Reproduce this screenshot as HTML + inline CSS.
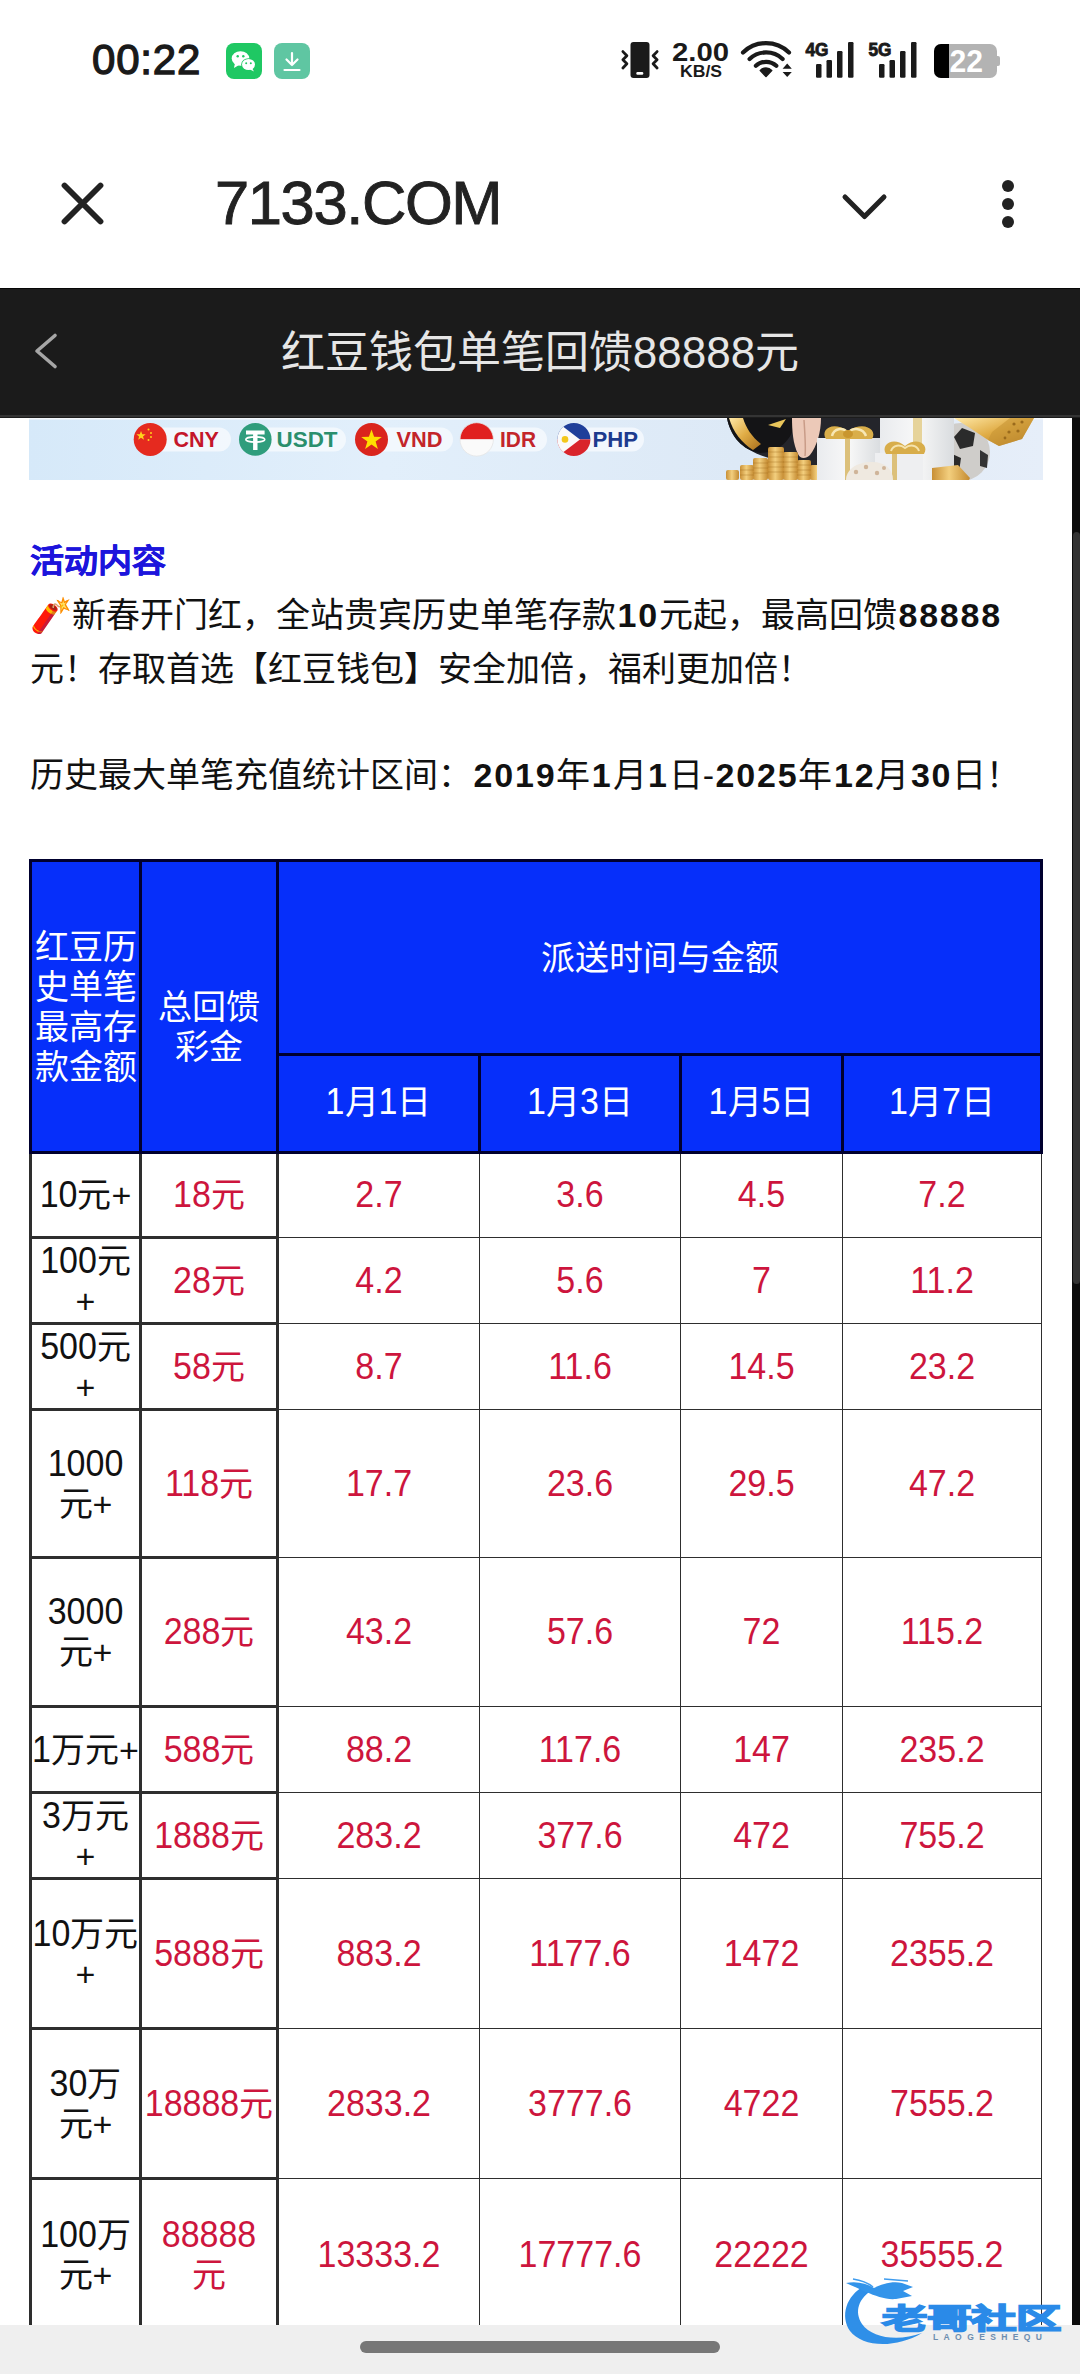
<!DOCTYPE html>
<html lang="zh-CN"><head><meta charset="utf-8">
<style>
*{margin:0;padding:0;box-sizing:border-box}
html,body{width:1080px;height:2374px;overflow:hidden;background:#fff;font-family:"Liberation Sans",sans-serif;position:relative}
.a{position:absolute}
.n{display:inline-block;transform:scaleY(1.09);position:relative;top:-1px}
b{letter-spacing:1.8px;margin-left:1.5px}
.c{position:absolute;display:flex;align-items:center;justify-content:center;text-align:center}
</style></head><body>
<!-- status bar -->
<div class="a" style="left:92px;top:35.5px;font-size:42px;font-weight:normal;color:#1a1a1a;letter-spacing:0.8px;-webkit-text-stroke:1.3px #1a1a1a">00:22</div>
<svg class="a" style="left:226px;top:43px" width="36" height="36" viewBox="0 0 36 36">
<rect width="36" height="36" rx="8" fill="#1fc863"/>
<ellipse cx="14.5" cy="15.5" rx="8.8" ry="7.3" fill="#fff"/>
<path d="M9 20 L8 25 L13 22 Z" fill="#fff"/>
<ellipse cx="22.5" cy="21.5" rx="7.3" ry="6.2" fill="#1fc863"/>
<ellipse cx="22.5" cy="21.5" rx="6.5" ry="5.5" fill="#fff"/>
<path d="M26 25 L28 28.5 L24 26.5 Z" fill="#fff"/>
<circle cx="11.7" cy="13.3" r="1.2" fill="#1fc863"/><circle cx="17.3" cy="13.3" r="1.2" fill="#1fc863"/>
<circle cx="20.2" cy="20.2" r="1" fill="#1fc863"/><circle cx="24.8" cy="20.2" r="1" fill="#1fc863"/>
</svg>
<svg class="a" style="left:274px;top:43px" width="36" height="36" viewBox="0 0 36 36">
<rect width="36" height="36" rx="8" fill="#5fc6a2"/>
<path d="M18 10 V22 M12.5 16.5 L18 22 L23.5 16.5 M10.5 27 H25.5" stroke="#fff" stroke-width="2.2" fill="none" stroke-linecap="round" stroke-linejoin="round"/>
</svg>
<svg class="a" style="left:615px;top:35px" width="400" height="50" viewBox="615 35 400 50">
<rect x="630.5" y="42" width="19" height="36" rx="3" fill="#1a1a1a"/>
<rect x="636.3" y="72" width="7" height="2.7" rx="1.2" fill="#fff"/>
<path d="M622.9 51.6 L626.9 55.8 L622.9 59.8 L626.9 63.8 L622.9 68" stroke="#1a1a1a" stroke-width="2.8" fill="none" stroke-linecap="round" stroke-linejoin="round"/>
<path d="M657.1 51.6 L653.1 55.8 L657.1 59.8 L653.1 63.8 L657.1 68" stroke="#1a1a1a" stroke-width="2.8" fill="none" stroke-linecap="round" stroke-linejoin="round"/>
<path d="M743 52.5 A33 33 0 0 1 789 52.5" stroke="#1a1a1a" stroke-width="4.2" fill="none" stroke-linecap="round"/>
<path d="M749.6 59 A24 24 0 0 1 782.6 59" stroke="#1a1a1a" stroke-width="4.2" fill="none" stroke-linecap="round"/>
<path d="M755.9 65.8 A15 15 0 0 1 776.3 65.8" stroke="#1a1a1a" stroke-width="4.2" fill="none" stroke-linecap="round"/>
<path d="M766 76.5 L760.3 70.5 A8 8 0 0 1 771.7 70.5 Z" fill="#1a1a1a" stroke="#1a1a1a" stroke-width="1.5" stroke-linejoin="round"/>
<path d="M782.6 68.7 L787.2 63.5 L791.8 68.7 Z M782.6 71.9 L787.2 77.1 L791.8 71.9 Z" fill="#1a1a1a"/>
<rect x="816" y="64" width="5.5" height="13.8" rx="1.2" fill="#1a1a1a"/>
<rect x="826.5" y="60" width="5.5" height="17.8" rx="1.2" fill="#1a1a1a"/>
<rect x="837" y="51" width="5.5" height="26.8" rx="1.2" fill="#1a1a1a"/>
<rect x="848" y="42" width="5.5" height="35.8" rx="1.2" fill="#1a1a1a"/>
<rect x="879" y="64" width="5.5" height="13.8" rx="1.2" fill="#1a1a1a"/>
<rect x="889.5" y="60" width="5.5" height="17.8" rx="1.2" fill="#1a1a1a"/>
<rect x="900" y="51" width="5.5" height="26.8" rx="1.2" fill="#1a1a1a"/>
<rect x="911" y="42" width="5.5" height="35.8" rx="1.2" fill="#1a1a1a"/>
<text x="805.5" y="56" font-family="Liberation Sans" font-weight="bold" font-size="18.5" fill="#1a1a1a" stroke="#1a1a1a" stroke-width="0.9" textLength="23" lengthAdjust="spacingAndGlyphs">4G</text>
<text x="868.5" y="56" font-family="Liberation Sans" font-weight="bold" font-size="18.5" fill="#1a1a1a" stroke="#1a1a1a" stroke-width="0.9" textLength="23" lengthAdjust="spacingAndGlyphs">5G</text>
<rect x="934" y="44" width="63" height="34" rx="7" fill="#b3b3b3"/>
<path d="M941 44 H949 V78 H941 A7 7 0 0 1 934 71 V51 A7 7 0 0 1 941 44 Z" fill="#000"/>
<path d="M997 56 H998 A2 2 0 0 1 1000 58 V64 A2 2 0 0 1 998 66 H997 Z" fill="#b3b3b3"/>
<text x="949.5" y="72.4" font-family="Liberation Sans" font-weight="bold" font-size="31" fill="#fff" textLength="33.5" lengthAdjust="spacingAndGlyphs">22</text>
<text x="672" y="61" font-family="Liberation Sans" font-weight="bold" font-size="26.5" fill="#1a1a1a" textLength="57" lengthAdjust="spacingAndGlyphs">2.00</text>
<text x="680" y="76.7" font-family="Liberation Sans" font-weight="bold" font-size="17" fill="#1a1a1a" textLength="42" lengthAdjust="spacingAndGlyphs">KB/S</text>
</svg>

<!-- browser toolbar -->
<svg class="a" style="left:0;top:150px" width="1080" height="100" viewBox="0 150 1080 100">
<path d="M64.5 185.5 L100.5 221.5 M100.5 185.5 L64.5 221.5" stroke="#222" stroke-width="5.8" stroke-linecap="round"/>
<path d="M845 197 L864.5 216.5 L884 197" stroke="#222" stroke-width="5" fill="none" stroke-linecap="round" stroke-linejoin="round"/>
<circle cx="1008" cy="186" r="6" fill="#222"/><circle cx="1008" cy="204" r="6" fill="#222"/><circle cx="1008" cy="222" r="6" fill="#222"/>
</svg>
<div class="a" style="left:215px;top:167px;font-size:61.5px;color:#222;letter-spacing:-1.4px;-webkit-text-stroke:0.9px #222">7133.COM</div>

<!-- dark header -->
<div class="a" style="left:0;top:288px;width:1080px;height:130px;background:#1b1b1b;border-top:1px solid #060606"></div>
<div class="a" style="left:0;top:415px;width:1080px;height:2px;background:#343434"></div>
<div class="a" style="left:0;top:417px;width:1080px;height:1px;background:#1c1c1c"></div>
<svg class="a" style="left:0;top:288px" width="100" height="127" viewBox="0 288 100 127"><path d="M55 335.5 L37 351 L55 366.5" stroke="#a6a6a6" stroke-width="3.6" fill="none" stroke-linecap="round" stroke-linejoin="round"/></svg>
<div class="a" style="left:0;top:317px;width:1080px;text-align:center;font-size:44px;color:#e6e6e6">红豆钱包单笔回馈88888元</div>

<!-- banner -->
<svg class="a" style="left:29px;top:418px" width="1014" height="62" viewBox="29 418 1014 62">
<defs>
<linearGradient id="bg1" x1="0" y1="0" x2="1" y2="0"><stop offset="0" stop-color="#d6e9f9"/><stop offset="0.35" stop-color="#e2effb"/><stop offset="0.7" stop-color="#dde9f6"/><stop offset="1" stop-color="#e6eef9"/></linearGradient>
<linearGradient id="gold" x1="0" y1="0" x2="1" y2="0"><stop offset="0" stop-color="#c88f36"/><stop offset="0.45" stop-color="#f3cf7e"/><stop offset="1" stop-color="#c48a30"/></linearGradient>
<linearGradient id="gold2" x1="0" y1="0" x2="1" y2="1"><stop offset="0" stop-color="#ffe9a8"/><stop offset="0.5" stop-color="#e0ac45"/><stop offset="1" stop-color="#a86e1c"/></linearGradient>
<linearGradient id="box" x1="0" y1="0" x2="1" y2="0"><stop offset="0" stop-color="#e9ebee"/><stop offset="0.5" stop-color="#f8f8f8"/><stop offset="1" stop-color="#d9dcdf"/></linearGradient>
</defs>
<rect x="29" y="418" width="1014" height="62" fill="url(#bg1)"/>
<rect x="29" y="418" width="1014" height="1.5" fill="#f4f8fc"/>
<!-- pills -->
<rect x="150" y="427.5" width="81" height="24" rx="12" fill="#f4f8fd" opacity="0.9"/>
<rect x="255" y="427.5" width="91" height="24" rx="12" fill="#f4f8fd" opacity="0.9"/>
<rect x="371" y="427.5" width="82" height="24" rx="12" fill="#f4f8fd" opacity="0.9"/>
<rect x="476" y="427.5" width="71" height="24" rx="12" fill="#f4f8fd" opacity="0.9"/>
<rect x="574" y="427.5" width="70" height="24" rx="12" fill="#f4f8fd" opacity="0.9"/>
<!-- CNY flag -->
<circle cx="150.2" cy="439.4" r="16.5" fill="#e52a1f"/>
<path d="M141 431 l1.3 3.2 3.4 .1 -2.7 2.1 1 3.3 -3 -1.9 -2.8 1.9 .9 -3.3 -2.7 -2.1 3.4 -.1z" fill="#ffd21c"/>
<circle cx="148.5" cy="429.5" r="1" fill="#ffd21c"/><circle cx="151" cy="433" r="1" fill="#ffd21c"/><circle cx="151" cy="437" r="1" fill="#ffd21c"/><circle cx="148.5" cy="440" r="1" fill="#ffd21c"/>
<!-- USDT -->
<circle cx="255.3" cy="439.4" r="16.3" fill="#2f9d7c"/>
<path d="M246 430.5 H264.6 V434.5 H257.5 V450 H253.1 V434.5 H246 Z" fill="#fff"/>
<ellipse cx="255.3" cy="439.5" rx="9.5" ry="2.6" fill="none" stroke="#fff" stroke-width="1.6"/>
<!-- VND -->
<circle cx="371.5" cy="439.4" r="16.5" fill="#da251d"/>
<path d="M371.5 429.5 l2.6 7.3 7.7 .1 -6.2 4.6 2.3 7.4 -6.4 -4.5 -6.4 4.5 2.3 -7.4 -6.2 -4.6 7.7 -.1z" fill="#ffde00"/>
<!-- IDR -->
<clipPath id="cid"><circle cx="476.7" cy="439.4" r="16.7"/></clipPath>
<g clip-path="url(#cid)"><rect x="459" y="422" width="36" height="17.4" fill="#e0201f"/><rect x="459" y="439.4" width="36" height="18" fill="#fafafa"/></g>
<circle cx="476.7" cy="439.4" r="16.7" fill="none" stroke="#e5e5e5" stroke-width="0.8"/>
<!-- PHP -->
<clipPath id="cph"><circle cx="573.9" cy="439.4" r="16.5"/></clipPath>
<g clip-path="url(#cph)"><rect x="557" y="422" width="34" height="17.4" fill="#1f3f9a"/><rect x="557" y="439.4" width="34" height="17.4" fill="#d9242b"/><path d="M557 422 L580 439.4 L557 457 Z" fill="#fafafa"/></g>
<circle cx="565" cy="439.4" r="3.3" fill="#f3c71b"/>
<text x="173.5" y="447.3" font-family="Liberation Sans" font-weight="bold" font-size="21.5" fill="#c4162a">CNY</text>
<text x="276.5" y="447.3" font-family="Liberation Sans" font-weight="bold" font-size="21.5" fill="#2a8f6d" textLength="61" lengthAdjust="spacingAndGlyphs">USDT</text>
<text x="396.5" y="447.3" font-family="Liberation Sans" font-weight="bold" font-size="21.5" fill="#c3252a" textLength="46" lengthAdjust="spacingAndGlyphs">VND</text>
<text x="500" y="447.3" font-family="Liberation Sans" font-weight="bold" font-size="21.5" fill="#c3252a" textLength="36" lengthAdjust="spacingAndGlyphs">IDR</text>
<text x="592.5" y="447.3" font-family="Liberation Sans" font-weight="bold" font-size="21.5" fill="#1d3b8e" textLength="45.5" lengthAdjust="spacingAndGlyphs">PHP</text>
<!-- art -->
<path d="M727 418 H882 V468 C850 472 800 470 760 455 C740 447 730 435 727 418 Z" fill="#24252b"/>
<path d="M727 418 H795 C795 438 780 452 760 453 C742 450 731 437 727 418 Z" fill="#141416"/>
<path d="M729 418 H743 C746 428 752 437 761 444 L753 450 C742 443 733 432 729 418 Z" fill="url(#gold2)"/>
<path d="M768 425 L786 419 L780 428 Z" fill="#e9c55a"/>
<path d="M792 418 H821 C821 432 817 446 810 455 C806 459 800 459 798 454 C793 444 792 430 792 418 Z" fill="#ecc9b8"/>
<path d="M804 420 C805 435 806 448 805 456" stroke="#c99c88" stroke-width="1.5" fill="none"/>
<g fill="url(#gold)">
<rect x="726" y="470" width="13" height="10" rx="2"/><rect x="740" y="465" width="14" height="15" rx="2"/><rect x="753" y="458" width="15" height="22" rx="2"/>
<rect x="768" y="447" width="16" height="33" rx="2"/><rect x="783" y="452" width="15" height="28" rx="2"/><rect x="797" y="460" width="14" height="20" rx="2"/><rect x="810" y="465" width="15" height="15" rx="2"/>
</g>
<g stroke="#9d6a1d" stroke-width="0.6" opacity="0.6">
<path d="M740 470 H754 M740 475 H754 M753 463 H768 M753 468 H768 M753 473 H768 M768 452 H784 M768 457 H784 M768 462 H784 M768 467 H784 M768 472 H784 M783 457 H798 M783 462 H798 M783 467 H798 M783 472 H798 M797 465 H811 M797 470 H811 M797 475 H811"/>
</g>
<rect x="817" y="438" width="64" height="42" fill="url(#box)"/>
<rect x="845" y="438" width="5" height="42" fill="#dcc07a"/>
<path d="M826 439 C820 430 832 420 848 431 C864 420 878 430 872 439 Z" fill="#d9ae4a"/>
<path d="M832 436 C834 428 843 427 848 433 C853 427 863 428 866 436" stroke="#f7e7b5" stroke-width="2.5" fill="none"/>
<ellipse cx="848" cy="434" rx="5" ry="4" fill="#c9962f"/>
<circle cx="961" cy="452" r="29" fill="#cfcdca"/>
<path d="M962 428 L975 433 L973 446 L960 449 L954 437 Z" fill="#2b2b2b"/>
<path d="M950 453 L961 458 L959 472 L950 474 Z" fill="#2b2b2b"/>
<path d="M980 450 L988 455 L987 468 L980 466 Z" fill="#333"/>
<rect x="880" y="418" width="74" height="62" fill="url(#box)"/>
<rect x="913" y="418" width="9" height="62" fill="#e6d39a"/>
<rect x="875" y="453" width="48" height="27" fill="#eeeff1"/>
<rect x="892" y="453" width="5" height="27" fill="#dcc07a"/>
<path d="M886 454 C880 444 894 436 905 446 C916 436 930 444 924 454 Z" fill="#d8ad4a"/>
<path d="M891 451 C893 445 900 444 905 448 C910 444 917 445 919 451" stroke="#f5e3ad" stroke-width="2" fill="none"/>
<path d="M846 480 C846 470 856 462 872 462 C886 462 893 470 893 480 Z" fill="#efe9e0"/>
<g fill="#c8a888" opacity="0.8"><circle cx="856" cy="472" r="2.2"/><circle cx="866" cy="467" r="2.2"/><circle cx="877" cy="473" r="2.2"/><circle cx="884" cy="468" r="2"/></g>
<path d="M954 418 H1034 L1022 439 L999 446 L988 440 L970 428 Z" fill="url(#gold2)"/>
<path d="M988 440 L999 446 L1022 439 L1034 418 H1010 L992 432 Z" fill="#c79536" opacity="0.6"/>
<g fill="#9a6a1c"><circle cx="1014" cy="424" r="1.6"/><circle cx="1022" cy="422" r="1.6"/><circle cx="1009" cy="432" r="1.6"/><circle cx="1018" cy="431" r="1.6"/><circle cx="1005" cy="438" r="1.4"/></g>
<path d="M932 468 L958 465 L970 478 L969 480 H932 Z" fill="url(#gold)"/>
</svg>

<!-- scrollbar -->
<div class="a" style="left:1072px;top:418px;width:8px;height:1907px;background:#0c0c0c"></div>
<div class="a" style="left:1073px;top:532px;width:7px;height:752px;background:#333;border-radius:4px"></div>

<!-- text -->
<div class="a" style="left:30px;top:536px;font-size:34px;font-weight:bold;color:#1c14dc;-webkit-text-stroke:0.4px #1c14dc;transform:scaleY(0.92);transform-origin:0 0">活动内容</div>
<div class="a" style="left:30px;top:588px;font-size:34px;line-height:54px;color:#111;width:1040px">🧨新春开门红，全站贵宾历史单笔存款<b>10</b>元起，最高回馈<b>88888</b><br>元！存取首选【红豆钱包】安全加倍，福利更加倍！</div>
<div class="a" style="left:30px;top:748px;font-size:34px;line-height:54px;color:#111;width:1040px">历史最大单笔充值统计区间：<b>2019</b>年<b>1</b>月<b>1</b>日-<b>2025</b>年<b>12</b>月<b>30</b>日！</div>

<!-- TABLE -->
<div class="a" style="left:29px;top:859px;width:1014px;height:295px;background:#00002e"></div>
<div class="a" style="left:32px;top:862px;width:107px;height:289px;background:#062ffa"></div>
<div class="a" style="left:142px;top:862px;width:134px;height:289px;background:#062ffa"></div>
<div class="a" style="left:279px;top:862px;width:761px;height:191px;background:#062ffa"></div>
<div class="a" style="left:279px;top:1056px;width:199px;height:95px;background:#062ffa"></div>
<div class="a" style="left:481px;top:1056px;width:198px;height:95px;background:#062ffa"></div>
<div class="a" style="left:682px;top:1056px;width:159px;height:95px;background:#062ffa"></div>
<div class="a" style="left:844px;top:1056px;width:196px;height:95px;background:#062ffa"></div>
<div class="a" style="left:29px;top:1154px;width:3px;height:1171px;background:#2e2e2e"></div>
<div class="a" style="left:139px;top:1154px;width:3px;height:1171px;background:#2e2e2e"></div>
<div class="a" style="left:276px;top:1154px;width:3px;height:1171px;background:#2e2e2e"></div>
<div class="a" style="left:479px;top:1154px;width:1px;height:1171px;background:#2e2e2e"></div>
<div class="a" style="left:680px;top:1154px;width:1px;height:1171px;background:#2e2e2e"></div>
<div class="a" style="left:842px;top:1154px;width:1px;height:1171px;background:#2e2e2e"></div>
<div class="a" style="left:1041px;top:1154px;width:1px;height:1171px;background:#2e2e2e"></div>
<div class="a" style="left:29px;top:1236px;width:250px;height:3px;background:#2e2e2e"></div>
<div class="a" style="left:279px;top:1237px;width:763px;height:1px;background:#2e2e2e"></div>
<div class="a" style="left:29px;top:1322px;width:250px;height:3px;background:#2e2e2e"></div>
<div class="a" style="left:279px;top:1323px;width:763px;height:1px;background:#2e2e2e"></div>
<div class="a" style="left:29px;top:1408px;width:250px;height:3px;background:#2e2e2e"></div>
<div class="a" style="left:279px;top:1409px;width:763px;height:1px;background:#2e2e2e"></div>
<div class="a" style="left:29px;top:1556px;width:250px;height:3px;background:#2e2e2e"></div>
<div class="a" style="left:279px;top:1557px;width:763px;height:1px;background:#2e2e2e"></div>
<div class="a" style="left:29px;top:1705px;width:250px;height:3px;background:#2e2e2e"></div>
<div class="a" style="left:279px;top:1706px;width:763px;height:1px;background:#2e2e2e"></div>
<div class="a" style="left:29px;top:1791px;width:250px;height:3px;background:#2e2e2e"></div>
<div class="a" style="left:279px;top:1792px;width:763px;height:1px;background:#2e2e2e"></div>
<div class="a" style="left:29px;top:1877px;width:250px;height:3px;background:#2e2e2e"></div>
<div class="a" style="left:279px;top:1878px;width:763px;height:1px;background:#2e2e2e"></div>
<div class="a" style="left:29px;top:2027px;width:250px;height:3px;background:#2e2e2e"></div>
<div class="a" style="left:279px;top:2028px;width:763px;height:1px;background:#2e2e2e"></div>
<div class="a" style="left:29px;top:2177px;width:250px;height:3px;background:#2e2e2e"></div>
<div class="a" style="left:279px;top:2178px;width:763px;height:1px;background:#2e2e2e"></div>
<div class="c" style="left:32px;top:862px;width:107px;height:289px;color:#fff;font-size:34px;line-height:40px"><div>红豆历<br>史单笔<br>最高存<br>款金额</div></div>
<div class="c" style="left:142px;top:862px;width:134px;height:289px;color:#fff;font-size:34px;line-height:40px;padding-top:40px"><div>总回馈<br>彩金</div></div>
<div class="c" style="left:279px;top:862px;width:761px;height:191px;color:#fff;font-size:34px;line-height:40px"><div>派送时间与金额</div></div>
<div class="c" style="left:279px;top:1056px;width:199px;height:95px;color:#fff;font-size:34px;line-height:40px;padding-bottom:3px"><div><span class="n">1</span>月<span class="n">1</span>日</div></div>
<div class="c" style="left:481px;top:1056px;width:198px;height:95px;color:#fff;font-size:34px;line-height:40px;padding-bottom:3px"><div><span class="n">1</span>月<span class="n">3</span>日</div></div>
<div class="c" style="left:682px;top:1056px;width:159px;height:95px;color:#fff;font-size:34px;line-height:40px;padding-bottom:3px"><div><span class="n">1</span>月<span class="n">5</span>日</div></div>
<div class="c" style="left:844px;top:1056px;width:196px;height:95px;color:#fff;font-size:34px;line-height:40px;padding-bottom:3px"><div><span class="n">1</span>月<span class="n">7</span>日</div></div>
<div class="c" style="left:32px;top:1154px;width:107px;height:82px;color:#111;font-size:34px;line-height:40px"><div><span class="n">10</span>元+</div></div>
<div class="c" style="left:142px;top:1154px;width:134px;height:82px;color:#cd153d;font-size:34px;line-height:40px"><div><span class="n">18</span>元</div></div>
<div class="c" style="left:279px;top:1154px;width:200px;height:82px;color:#cd153d;font-size:34px;line-height:40px"><div><span class="n">2.7</span></div></div>
<div class="c" style="left:480px;top:1154px;width:200px;height:82px;color:#cd153d;font-size:34px;line-height:40px"><div><span class="n">3.6</span></div></div>
<div class="c" style="left:681px;top:1154px;width:161px;height:82px;color:#cd153d;font-size:34px;line-height:40px"><div><span class="n">4.5</span></div></div>
<div class="c" style="left:843px;top:1154px;width:198px;height:82px;color:#cd153d;font-size:34px;line-height:40px"><div><span class="n">7.2</span></div></div>
<div class="c" style="left:32px;top:1239px;width:107px;height:83px;color:#111;font-size:34px;line-height:40px"><div><span class="n">100</span>元<br>+</div></div>
<div class="c" style="left:142px;top:1239px;width:134px;height:83px;color:#cd153d;font-size:34px;line-height:40px"><div><span class="n">28</span>元</div></div>
<div class="c" style="left:279px;top:1239px;width:200px;height:83px;color:#cd153d;font-size:34px;line-height:40px"><div><span class="n">4.2</span></div></div>
<div class="c" style="left:480px;top:1239px;width:200px;height:83px;color:#cd153d;font-size:34px;line-height:40px"><div><span class="n">5.6</span></div></div>
<div class="c" style="left:681px;top:1239px;width:161px;height:83px;color:#cd153d;font-size:34px;line-height:40px"><div><span class="n">7</span></div></div>
<div class="c" style="left:843px;top:1239px;width:198px;height:83px;color:#cd153d;font-size:34px;line-height:40px"><div><span class="n">11.2</span></div></div>
<div class="c" style="left:32px;top:1325px;width:107px;height:83px;color:#111;font-size:34px;line-height:40px"><div><span class="n">500</span>元<br>+</div></div>
<div class="c" style="left:142px;top:1325px;width:134px;height:83px;color:#cd153d;font-size:34px;line-height:40px"><div><span class="n">58</span>元</div></div>
<div class="c" style="left:279px;top:1325px;width:200px;height:83px;color:#cd153d;font-size:34px;line-height:40px"><div><span class="n">8.7</span></div></div>
<div class="c" style="left:480px;top:1325px;width:200px;height:83px;color:#cd153d;font-size:34px;line-height:40px"><div><span class="n">11.6</span></div></div>
<div class="c" style="left:681px;top:1325px;width:161px;height:83px;color:#cd153d;font-size:34px;line-height:40px"><div><span class="n">14.5</span></div></div>
<div class="c" style="left:843px;top:1325px;width:198px;height:83px;color:#cd153d;font-size:34px;line-height:40px"><div><span class="n">23.2</span></div></div>
<div class="c" style="left:32px;top:1411px;width:107px;height:145px;color:#111;font-size:34px;line-height:40px"><div><span class="n">1000</span><br>元+</div></div>
<div class="c" style="left:142px;top:1411px;width:134px;height:145px;color:#cd153d;font-size:34px;line-height:40px"><div><span class="n">118</span>元</div></div>
<div class="c" style="left:279px;top:1411px;width:200px;height:145px;color:#cd153d;font-size:34px;line-height:40px"><div><span class="n">17.7</span></div></div>
<div class="c" style="left:480px;top:1411px;width:200px;height:145px;color:#cd153d;font-size:34px;line-height:40px"><div><span class="n">23.6</span></div></div>
<div class="c" style="left:681px;top:1411px;width:161px;height:145px;color:#cd153d;font-size:34px;line-height:40px"><div><span class="n">29.5</span></div></div>
<div class="c" style="left:843px;top:1411px;width:198px;height:145px;color:#cd153d;font-size:34px;line-height:40px"><div><span class="n">47.2</span></div></div>
<div class="c" style="left:32px;top:1559px;width:107px;height:146px;color:#111;font-size:34px;line-height:40px"><div><span class="n">3000</span><br>元+</div></div>
<div class="c" style="left:142px;top:1559px;width:134px;height:146px;color:#cd153d;font-size:34px;line-height:40px"><div><span class="n">288</span>元</div></div>
<div class="c" style="left:279px;top:1559px;width:200px;height:146px;color:#cd153d;font-size:34px;line-height:40px"><div><span class="n">43.2</span></div></div>
<div class="c" style="left:480px;top:1559px;width:200px;height:146px;color:#cd153d;font-size:34px;line-height:40px"><div><span class="n">57.6</span></div></div>
<div class="c" style="left:681px;top:1559px;width:161px;height:146px;color:#cd153d;font-size:34px;line-height:40px"><div><span class="n">72</span></div></div>
<div class="c" style="left:843px;top:1559px;width:198px;height:146px;color:#cd153d;font-size:34px;line-height:40px"><div><span class="n">115.2</span></div></div>
<div class="c" style="left:32px;top:1708px;width:107px;height:83px;color:#111;font-size:34px;line-height:40px"><div><span class="n">1</span>万元+</div></div>
<div class="c" style="left:142px;top:1708px;width:134px;height:83px;color:#cd153d;font-size:34px;line-height:40px"><div><span class="n">588</span>元</div></div>
<div class="c" style="left:279px;top:1708px;width:200px;height:83px;color:#cd153d;font-size:34px;line-height:40px"><div><span class="n">88.2</span></div></div>
<div class="c" style="left:480px;top:1708px;width:200px;height:83px;color:#cd153d;font-size:34px;line-height:40px"><div><span class="n">117.6</span></div></div>
<div class="c" style="left:681px;top:1708px;width:161px;height:83px;color:#cd153d;font-size:34px;line-height:40px"><div><span class="n">147</span></div></div>
<div class="c" style="left:843px;top:1708px;width:198px;height:83px;color:#cd153d;font-size:34px;line-height:40px"><div><span class="n">235.2</span></div></div>
<div class="c" style="left:32px;top:1794px;width:107px;height:83px;color:#111;font-size:34px;line-height:40px"><div><span class="n">3</span>万元<br>+</div></div>
<div class="c" style="left:142px;top:1794px;width:134px;height:83px;color:#cd153d;font-size:34px;line-height:40px"><div><span class="n">1888</span>元</div></div>
<div class="c" style="left:279px;top:1794px;width:200px;height:83px;color:#cd153d;font-size:34px;line-height:40px"><div><span class="n">283.2</span></div></div>
<div class="c" style="left:480px;top:1794px;width:200px;height:83px;color:#cd153d;font-size:34px;line-height:40px"><div><span class="n">377.6</span></div></div>
<div class="c" style="left:681px;top:1794px;width:161px;height:83px;color:#cd153d;font-size:34px;line-height:40px"><div><span class="n">472</span></div></div>
<div class="c" style="left:843px;top:1794px;width:198px;height:83px;color:#cd153d;font-size:34px;line-height:40px"><div><span class="n">755.2</span></div></div>
<div class="c" style="left:32px;top:1880px;width:107px;height:147px;color:#111;font-size:34px;line-height:40px"><div><span class="n">10</span>万元<br>+</div></div>
<div class="c" style="left:142px;top:1880px;width:134px;height:147px;color:#cd153d;font-size:34px;line-height:40px"><div><span class="n">5888</span>元</div></div>
<div class="c" style="left:279px;top:1880px;width:200px;height:147px;color:#cd153d;font-size:34px;line-height:40px"><div><span class="n">883.2</span></div></div>
<div class="c" style="left:480px;top:1880px;width:200px;height:147px;color:#cd153d;font-size:34px;line-height:40px"><div><span class="n">1177.6</span></div></div>
<div class="c" style="left:681px;top:1880px;width:161px;height:147px;color:#cd153d;font-size:34px;line-height:40px"><div><span class="n">1472</span></div></div>
<div class="c" style="left:843px;top:1880px;width:198px;height:147px;color:#cd153d;font-size:34px;line-height:40px"><div><span class="n">2355.2</span></div></div>
<div class="c" style="left:32px;top:2030px;width:107px;height:147px;color:#111;font-size:34px;line-height:40px"><div><span class="n">30</span>万<br>元+</div></div>
<div class="c" style="left:142px;top:2030px;width:134px;height:147px;color:#cd153d;font-size:34px;line-height:40px"><div><span class="n">18888</span>元</div></div>
<div class="c" style="left:279px;top:2030px;width:200px;height:147px;color:#cd153d;font-size:34px;line-height:40px"><div><span class="n">2833.2</span></div></div>
<div class="c" style="left:480px;top:2030px;width:200px;height:147px;color:#cd153d;font-size:34px;line-height:40px"><div><span class="n">3777.6</span></div></div>
<div class="c" style="left:681px;top:2030px;width:161px;height:147px;color:#cd153d;font-size:34px;line-height:40px"><div><span class="n">4722</span></div></div>
<div class="c" style="left:843px;top:2030px;width:198px;height:147px;color:#cd153d;font-size:34px;line-height:40px"><div><span class="n">7555.2</span></div></div>
<div class="c" style="left:32px;top:2180px;width:107px;height:149px;color:#111;font-size:34px;line-height:40px"><div><span class="n">100</span>万<br>元+</div></div>
<div class="c" style="left:142px;top:2180px;width:134px;height:149px;color:#cd153d;font-size:34px;line-height:40px"><div><span class="n">88888</span><br>元</div></div>
<div class="c" style="left:279px;top:2180px;width:200px;height:149px;color:#cd153d;font-size:34px;line-height:40px"><div><span class="n">13333.2</span></div></div>
<div class="c" style="left:480px;top:2180px;width:200px;height:149px;color:#cd153d;font-size:34px;line-height:40px"><div><span class="n">17777.6</span></div></div>
<div class="c" style="left:681px;top:2180px;width:161px;height:149px;color:#cd153d;font-size:34px;line-height:40px"><div><span class="n">22222</span></div></div>
<div class="c" style="left:843px;top:2180px;width:198px;height:149px;color:#cd153d;font-size:34px;line-height:40px"><div><span class="n">35555.2</span></div></div>
<!-- /TABLE -->
<!-- nav bar -->
<div class="a" style="left:0;top:2325px;width:1080px;height:49px;background:#efefef"></div>
<div class="a" style="left:360px;top:2341px;width:360px;height:12px;background:#777;border-radius:6px"></div>
<!-- watermark -->
<svg class="a" style="left:830px;top:2260px" width="250" height="100" viewBox="830 2260 250 100">
<path d="M864 2286 C846 2296 840 2316 850 2331 C862 2347 895 2349 922 2333 C898 2342 872 2338 862 2324 C854 2312 858 2298 874 2289 Z" fill="#2f8fe8"/>
<path d="M846 2283 C856 2281 866 2283 874 2288 C882 2284 892 2281 902 2283 L913 2287 L903 2291 L912 2296 L896 2299 C886 2300 876 2296 866 2292 C858 2288 852 2286 846 2283 Z" fill="#3394ea"/>
<path d="M853 2279 C860 2280 868 2283 873 2287 M884 2279 L908 2281" stroke="#3f9cee" stroke-width="1.6" fill="none"/>
<g transform="translate(0,2329) scale(1,0.7) translate(0,-2329)">
<text x="882" y="2329" font-family="Liberation Sans" font-weight="900" font-size="41" fill="#2a8ae8" stroke="#2a8ae8" stroke-width="2.5" textLength="179" lengthAdjust="spacingAndGlyphs">老哥社区</text>
</g>
<text x="933" y="2339.5" font-family="Liberation Sans" font-weight="bold" font-size="8.5" fill="#6d8db0" textLength="109" lengthAdjust="spacing">LAOGESHEQU</text>
</svg>
</body></html>
